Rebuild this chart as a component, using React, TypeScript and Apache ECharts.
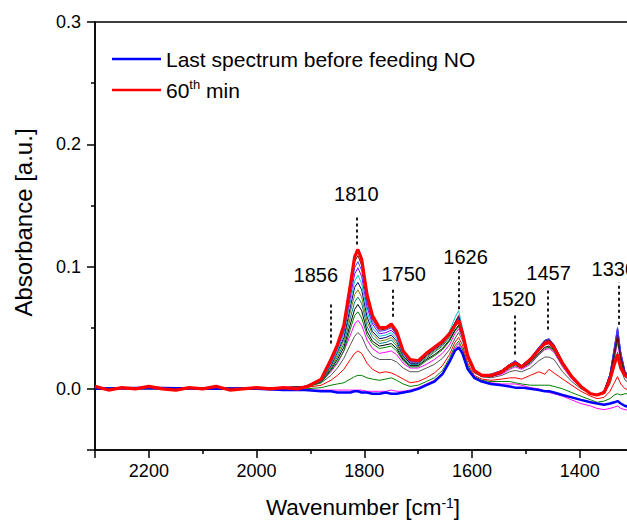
import React, { useEffect, useRef } from 'react';
import * as echarts from 'echarts';

const FONT = '"Liberation Sans", Arial, Helvetica, sans-serif';

// Wavenumbers (cm-1) shared by the intermediate spectra and the blue one
const wave = [2300, 2200, 2100, 2000, 1950, 1910,
  1880, 1862, 1850, 1838, 1826, 1818, 1812, 1805,
  1795, 1785, 1772, 1760, 1750, 1740, 1728, 1715,
  1700, 1685, 1670, 1655, 1642, 1632, 1625, 1618, 1608, 1596,
  1582, 1565, 1545, 1530, 1520, 1508, 1492, 1476, 1465, 1457, 1448, 1432, 1415, 1398,
  1380, 1368, 1355, 1344, 1336, 1330, 1324, 1316, 1305];

// Wavenumbers of the 60th-min spectrum (denser in the flat region)
const waveRed = [2300, 2275, 2250, 2225, 2200, 2175, 2150, 2125, 2100, 2075, 2050, 2025, 2000, 1975, 1950, 1925, 1905,
  1880, 1862, 1850, 1838, 1826, 1818, 1812, 1805,
  1795, 1785, 1772, 1760, 1750, 1740, 1728, 1715,
  1700, 1685, 1670, 1655, 1642, 1632, 1625, 1618, 1608, 1596,
  1582, 1565, 1545, 1530, 1520, 1508, 1492, 1476, 1465, 1457, 1448, 1432, 1415, 1398,
  1380, 1368, 1355, 1344, 1336, 1330, 1324, 1316, 1305];

// Last spectrum before feeding NO (blue)
const blueBase = [0.000, 0.001, 0.000, 0.000, -0.001, -0.001,
  -0.002, -0.002, -0.003, -0.003, -0.003, -0.002, -0.002, -0.003,
  -0.003, -0.004, -0.004, -0.003, -0.004, -0.004, -0.003, -0.002,
  0.000, 0.003, 0.006, 0.012, 0.022, 0.031, 0.034, 0.029, 0.016, 0.009,
  0.006, 0.004, 0.003, 0.002, 0.001, 0.001, 0.000, -0.001, -0.002, -0.002, -0.003, -0.005, -0.007, -0.009,
  -0.011, -0.012, -0.013, -0.012, -0.011, -0.010, -0.012, -0.014, -0.015];

// 60th min (red, thick)
const red60 = [0.002, -0.001, 0.001, 0.000, 0.002, 0.000, -0.001, 0.001, 0.000, 0.002, -0.001, 0.000, 0.001, 0.000, 0.001, 0.000, 0.002,
  0.008, 0.024, 0.036, 0.052, 0.085, 0.108, 0.114, 0.106,
  0.077, 0.060, 0.050, 0.050, 0.053, 0.047, 0.031, 0.024,
  0.023, 0.029, 0.034, 0.039, 0.045, 0.052, 0.056, 0.046, 0.027, 0.015,
  0.011, 0.011, 0.014, 0.019, 0.021, 0.018, 0.024, 0.032, 0.037, 0.038, 0.034, 0.021, 0.010, 0.002,
  -0.004, -0.005, -0.003, 0.008, 0.020, 0.028, 0.017, 0.011, 0.008];

// Intermediate spectra
const magenta1 = [0.000, 0.000, 0.001, 0.000, 0.000, -0.001,
  -0.001, -0.001, -0.001, -0.001, -0.001, -0.001, -0.001, -0.001,
  -0.002, -0.002, -0.002, -0.002, -0.001, -0.002, -0.002, -0.001,
  0.001, 0.004, 0.007, 0.013, 0.023, 0.033, 0.037, 0.032, 0.018, 0.010,
  0.006, 0.005, 0.004, 0.004, 0.004, 0.003, 0.001, 0.000, -0.002, -0.003, -0.004, -0.006, -0.009, -0.012,
  -0.014, -0.016, -0.017, -0.016, -0.015, -0.014, -0.016, -0.017, -0.018];

const green1 = [0.000, 0.001, 0.000, 0.000, 0.000, 0.000,
  0.001, 0.003, 0.004, 0.005, 0.008, 0.010, 0.011, 0.011,
  0.009, 0.008, 0.007, 0.008, 0.009, 0.007, 0.004, 0.002,
  0.003, 0.006, 0.009, 0.015, 0.025, 0.035, 0.039, 0.033, 0.019, 0.010,
  0.007, 0.006, 0.006, 0.006, 0.005, 0.004, 0.003, 0.003, 0.003, 0.003, 0.002, 0.000, -0.003, -0.006,
  -0.009, -0.011, -0.010, -0.008, -0.005, -0.004, -0.005, -0.004, -0.004];

const redThin = [0.000, 0.000, 0.001, 0.000, 0.001, 0.001,
  0.003, 0.007, 0.011, 0.016, 0.024, 0.029, 0.031, 0.029,
  0.021, 0.016, 0.013, 0.014, 0.013, 0.011, 0.008, 0.005,
  0.006, 0.009, 0.013, 0.019, 0.028, 0.038, 0.042, 0.036, 0.021, 0.011,
  0.008, 0.007, 0.008, 0.009, 0.009, 0.008, 0.011, 0.014, 0.012, 0.016, 0.013, 0.008, 0.003, -0.002,
  -0.006, -0.008, -0.007, -0.002, 0.005, 0.010, 0.004, 0.000, -0.001];

const gray1 = [0.000, 0.001, 0.000, 0.001, 0.000, 0.002,
  0.005, 0.011, 0.017, 0.025, 0.036, 0.043, 0.046, 0.043,
  0.033, 0.027, 0.024, 0.024, 0.024, 0.022, 0.017, 0.014,
  0.014, 0.017, 0.020, 0.025, 0.032, 0.041, 0.046, 0.040, 0.024, 0.013,
  0.010, 0.009, 0.011, 0.014, 0.015, 0.014, 0.017, 0.023, 0.026, 0.026, 0.024, 0.014, 0.006, 0.000,
  -0.004, -0.005, -0.004, 0.004, 0.018, 0.030, 0.016, 0.007, 0.004];

const magenta2 = [0.000, 0.000, 0.001, 0.000, 0.001, 0.002,
  0.006, 0.014, 0.021, 0.031, 0.044, 0.053, 0.056, 0.052,
  0.040, 0.033, 0.029, 0.030, 0.031, 0.028, 0.021, 0.017,
  0.017, 0.020, 0.024, 0.029, 0.036, 0.045, 0.049, 0.042, 0.025, 0.014,
  0.010, 0.010, 0.012, 0.016, 0.018, 0.016, 0.020, 0.028, 0.032, 0.033, 0.030, 0.018, 0.008, 0.001,
  -0.004, -0.005, -0.003, 0.007, 0.024, 0.038, 0.022, 0.010, 0.006];

const green2 = [0.000, 0.001, 0.000, 0.000, 0.001, 0.001,
  0.005, 0.015, 0.022, 0.031, 0.049, 0.060, 0.063, 0.058,
  0.044, 0.037, 0.033, 0.034, 0.035, 0.031, 0.023, 0.018,
  0.018, 0.023, 0.027, 0.032, 0.039, 0.047, 0.051, 0.043, 0.025, 0.014,
  0.010, 0.010, 0.013, 0.017, 0.019, 0.017, 0.021, 0.028, 0.033, 0.034, 0.031, 0.019, 0.009, 0.002,
  -0.004, -0.005, -0.002, 0.009, 0.026, 0.040, 0.024, 0.011, 0.007];

const black1 = [0.001, 0.000, 0.000, 0.001, 0.001, 0.002,
  0.006, 0.016, 0.024, 0.034, 0.053, 0.065, 0.069, 0.064,
  0.047, 0.039, 0.035, 0.036, 0.037, 0.033, 0.024, 0.019,
  0.019, 0.024, 0.028, 0.033, 0.040, 0.048, 0.052, 0.044, 0.026, 0.014,
  0.010, 0.010, 0.013, 0.018, 0.020, 0.017, 0.022, 0.029, 0.034, 0.035, 0.032, 0.020, 0.009, 0.002,
  -0.004, -0.005, -0.002, 0.010, 0.028, 0.042, 0.025, 0.012, 0.008];

const teal1 = [0.000, 0.000, 0.001, 0.000, 0.001, 0.002,
  0.006, 0.017, 0.026, 0.037, 0.058, 0.071, 0.075, 0.070,
  0.051, 0.042, 0.037, 0.038, 0.040, 0.035, 0.025, 0.020,
  0.020, 0.025, 0.030, 0.035, 0.042, 0.050, 0.055, 0.046, 0.027, 0.015,
  0.011, 0.011, 0.014, 0.019, 0.021, 0.018, 0.023, 0.031, 0.036, 0.037, 0.033, 0.021, 0.010, 0.002,
  -0.004, -0.005, -0.002, 0.011, 0.030, 0.045, 0.027, 0.013, 0.009];

const olive1 = [0.001, 0.000, 0.000, 0.001, 0.000, 0.002,
  0.007, 0.018, 0.028, 0.040, 0.063, 0.077, 0.081, 0.075,
  0.055, 0.045, 0.039, 0.040, 0.042, 0.037, 0.026, 0.021,
  0.021, 0.026, 0.031, 0.036, 0.043, 0.052, 0.057, 0.047, 0.028, 0.015,
  0.011, 0.011, 0.014, 0.019, 0.022, 0.019, 0.024, 0.032, 0.037, 0.038, 0.034, 0.021, 0.010, 0.002,
  -0.004, -0.005, -0.002, 0.011, 0.031, 0.047, 0.028, 0.013, 0.009];

const navy1 = [0.000, 0.001, 0.000, 0.000, 0.001, 0.001,
  0.007, 0.019, 0.030, 0.042, 0.067, 0.083, 0.087, 0.081,
  0.059, 0.047, 0.041, 0.042, 0.044, 0.039, 0.027, 0.021,
  0.021, 0.027, 0.032, 0.037, 0.044, 0.053, 0.058, 0.048, 0.028, 0.015,
  0.011, 0.011, 0.014, 0.020, 0.022, 0.019, 0.024, 0.033, 0.038, 0.039, 0.035, 0.022, 0.010, 0.002,
  -0.004, -0.005, -0.002, 0.012, 0.032, 0.048, 0.029, 0.013, 0.009];

const cyan1 = [0.001, 0.000, 0.001, 0.000, 0.000, 0.002,
  0.007, 0.020, 0.031, 0.045, 0.071, 0.088, 0.093, 0.086,
  0.063, 0.050, 0.043, 0.044, 0.046, 0.041, 0.028, 0.022,
  0.022, 0.028, 0.033, 0.039, 0.047, 0.058, 0.064, 0.050, 0.029, 0.016,
  0.011, 0.012, 0.015, 0.020, 0.022, 0.019, 0.025, 0.033, 0.039, 0.040, 0.035, 0.022, 0.010, 0.002,
  -0.004, -0.005, -0.002, 0.012, 0.033, 0.049, 0.029, 0.013, 0.009];

const violet1 = [0.000, 0.001, 0.000, 0.001, 0.001, 0.001,
  0.008, 0.021, 0.033, 0.047, 0.075, 0.094, 0.099, 0.092,
  0.067, 0.053, 0.045, 0.046, 0.048, 0.043, 0.029, 0.022,
  0.022, 0.028, 0.033, 0.038, 0.045, 0.054, 0.059, 0.048, 0.028, 0.016,
  0.011, 0.012, 0.015, 0.020, 0.023, 0.019, 0.025, 0.034, 0.039, 0.041, 0.036, 0.022, 0.010, 0.002,
  -0.004, -0.005, -0.002, 0.012, 0.033, 0.050, 0.030, 0.014, 0.009];

const royal1 = [0.001, 0.000, 0.000, 0.001, 0.000, 0.002,
  0.008, 0.022, 0.034, 0.049, 0.079, 0.099, 0.104, 0.097,
  0.070, 0.055, 0.047, 0.048, 0.050, 0.044, 0.030, 0.023,
  0.022, 0.028, 0.034, 0.039, 0.045, 0.053, 0.058, 0.047, 0.028, 0.016,
  0.011, 0.011, 0.015, 0.020, 0.023, 0.019, 0.025, 0.034, 0.040, 0.041, 0.036, 0.022, 0.010, 0.002,
  -0.004, -0.005, -0.002, 0.012, 0.034, 0.050, 0.030, 0.014, 0.010];

const wine1 = [0.000, 0.001, 0.001, 0.000, 0.001, 0.002,
  0.008, 0.023, 0.035, 0.051, 0.082, 0.104, 0.109, 0.101,
  0.073, 0.057, 0.048, 0.049, 0.051, 0.045, 0.030, 0.023,
  0.023, 0.029, 0.034, 0.040, 0.046, 0.054, 0.060, 0.048, 0.028, 0.016,
  0.011, 0.011, 0.015, 0.020, 0.022, 0.019, 0.025, 0.033, 0.039, 0.040, 0.036, 0.022, 0.010, 0.002,
  -0.004, -0.005, -0.002, 0.011, 0.030, 0.044, 0.026, 0.013, 0.009];

const thinSpectra = [
  { values: magenta1, color: '#FF00FF' },
  { values: green1, color: '#008000' },
  { values: redThin, color: '#FF0000' },
  { values: gray1, color: '#555555' },
  { values: magenta2, color: '#FF00FF' },
  { values: green2, color: '#008000' },
  { values: black1, color: '#000000' },
  { values: teal1, color: '#008080' },
  { values: olive1, color: '#808000' },
  { values: navy1, color: '#000080' },
  { values: cyan1, color: '#00C8C8' },
  { values: violet1, color: '#8000FF' },
  { values: royal1, color: '#4040FF' },
  { values: wine1, color: '#800000' },
];

// Band annotations
const annLabel = ['1856', '1810', '1750', '1626', '1520', '1457', '1330'];
const annLineX = [1862, 1814, 1747, 1624, 1521, 1459, 1328];
const annLineLow = [0.037, 0.118, 0.059, 0.065, 0.028, 0.0485, 0.0525];
const annLineHigh = [0.070, 0.141, 0.0825, 0.098, 0.062, 0.082, 0.087];
const annTextX = [1890, 1815, 1727, 1612, 1523, 1458, 1337];
const annTextY = [0.093, 0.159, 0.0936, 0.108, 0.0734, 0.0944, 0.0984];

const legendNames = ['Last spectrum before feeding NO', '60th min'];

const pairs = (xs: number[], vals: number[]) => xs.map((w, i) => [w, vals[i]]);

export default function App() {
  const ref = useRef<HTMLDivElement>(null);
  useEffect(() => {
    if (!ref.current) return;
    const chart = echarts.init(ref.current, undefined, { renderer: 'svg' });
    const series: any[] = [];
    thinSpectra.forEach((s, i) => {
      series.push({
        type: 'line', name: 'thin' + i, data: pairs(wave, s.values), showSymbol: false, symbol: 'none',
        lineStyle: { color: s.color, width: 1 }, itemStyle: { color: s.color }, silent: true,
      });
    });
    series.push({
      type: 'line', name: legendNames[0], data: pairs(wave, blueBase), showSymbol: false, symbol: 'none',
      lineStyle: { color: '#0000FF', width: 2.5 }, itemStyle: { color: '#0000FF' },
    });
    series.push({
      type: 'line', name: legendNames[1], data: pairs(waveRed, red60), showSymbol: false, symbol: 'none',
      lineStyle: { color: '#FF0000', width: 3.2 }, itemStyle: { color: '#FF0000' },
    });
    series.push({
      type: 'line', name: 'ann', data: [], silent: true,
      markLine: {
        silent: true, symbol: ['none', 'none'], animation: false,
        lineStyle: { type: [3, 3], color: '#000', width: 1.8 },
        label: { show: false },
        data: annLineX.map((x, i) => [{ coord: [x, annLineLow[i]] }, { coord: [x, annLineHigh[i]] }]),
      },
    });
    series.push({
      type: 'scatter', name: 'annText', silent: true, symbolSize: 1,
      itemStyle: { color: 'transparent' },
      data: annLabel.map((t, i) => ({ value: [annTextX[i], annTextY[i]], name: t })),
      label: {
        show: true, position: 'inside', formatter: '{b}', color: '#000', opacity: 1,
        textBorderWidth: 0, fontSize: 20, fontFamily: FONT,
      },
    });

    chart.setOption({
      animation: false,
      backgroundColor: '#fff',
      grid: { left: 95, right: 9, top: 22, bottom: 69, show: true, borderColor: '#000', borderWidth: 1.5, backgroundColor: 'transparent' },
      legend: {
        data: legendNames,
        orient: 'vertical', left: 112, top: 47, padding: 0, itemGap: 7,
        icon: 'rect', itemWidth: 49, itemHeight: 2.5,
        selectedMode: false,
        formatter: (n: string) => (n === '60th min' ? '60{sup|th} min' : n),
        textStyle: {
          fontSize: 21, fontFamily: FONT, color: '#000', lineHeight: 24,
          rich: { sup: { fontSize: 13, fontFamily: FONT, color: '#000', verticalAlign: 'top', lineHeight: 14 } },
        },
      },
      xAxis: {
        type: 'value', inverse: true, min: 1305, max: 2300,
        minInterval: 200, maxInterval: 200, splitNumber: 5,
        splitLine: { show: false },
        axisLine: { show: true, onZero: false, lineStyle: { color: '#000', width: 1.5 } },
        axisTick: { show: true, inside: false, length: 8, lineStyle: { color: '#000', width: 1.5 } },
        minorTick: { show: true, splitNumber: 2, length: 4, lineStyle: { color: '#000', width: 1.5 } },
        minorSplitLine: { show: false },
        axisLabel: {
          margin: 12, fontSize: 18, fontFamily: FONT, color: '#000',
          formatter: (v: number) => (Math.abs(v % 200) < 1e-6 ? String(v) : ''),
        },
        name: 'Wavenumber [cm{sup|-1}]', nameLocation: 'middle', nameGap: 46,
        nameTextStyle: {
          fontSize: 22.5, fontFamily: FONT, color: '#000',
          rich: { sup: { fontSize: 14, fontFamily: FONT, color: '#000', verticalAlign: 'top', lineHeight: 14 } },
        },
      },
      yAxis: {
        type: 'value', min: -0.05, max: 0.3,
        minInterval: 0.1, maxInterval: 0.1, splitNumber: 4,
        splitLine: { show: false },
        axisLine: { show: true, onZero: false, lineStyle: { color: '#000', width: 1.5 } },
        axisTick: { show: true, inside: false, length: 8, lineStyle: { color: '#000', width: 1.5 } },
        minorTick: { show: true, splitNumber: 2, length: 4, lineStyle: { color: '#000', width: 1.5 } },
        minorSplitLine: { show: false },
        axisLabel: {
          margin: 14, fontSize: 18, fontFamily: FONT, color: '#000',
          formatter: (v: number) => {
            const r = Math.round(v * 10) / 10;
            return Math.abs(v - r) < 1e-6 ? r.toFixed(1) : '';
          },
        },
        name: 'Absorbance [a.u.]', nameLocation: 'middle', nameGap: 60,
        nameTextStyle: { fontSize: 24, fontFamily: FONT, color: '#000', padding: [0, 0, 0, 27] },
      },
      series,
    });
    return () => chart.dispose();
  }, []);

  return (
    <div style={{ position: 'fixed', left: 0, top: 0, width: 627, height: 524, overflow: 'hidden', background: '#fff' }}>
      <div ref={ref} style={{ width: 640, height: 524 }} />
    </div>
  );
}
